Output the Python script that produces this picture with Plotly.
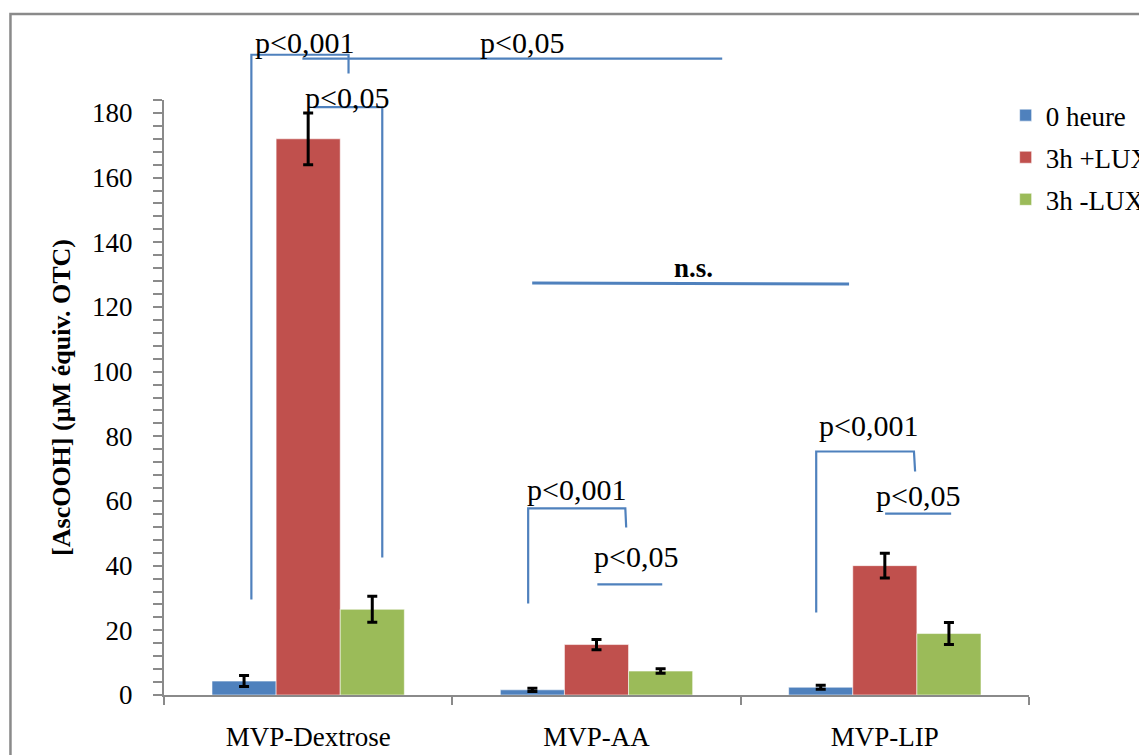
import plotly.graph_objects as go

# Samples and series
categories = ["MVP-Dextrose", "MVP-AA", "MVP-LIP"]
series_names = ["0 heure", "3h +LUX", "3h -LUX"]
series_colors = ["#4f81bd", "#c0504d", "#9bbb59"]
values_0h = [4.3, 1.6, 2.4]
values_lux = [172.0, 15.6, 40.0]
values_nolux = [26.5, 7.4, 19.0]
errors_0h = [1.7, 0.5, 0.6]
errors_lux = [8.0, 1.6, 3.8]
errors_nolux = [4.0, 0.7, 3.4]

Y_MAX = 184
SERIF = "Liberation Serif"
BRACKET_BLUE = "#4f81bd"

# Significance brackets: polylines in (category position, concentration) units
brackets = [
    ([-0.197, -0.197, 0.140, 0.140], [29.5, 198.0, 198.0, 192.2], 2.2),
    ([-0.020, 1.436], [196.8, 196.8], 2.2),
    ([0.018, 0.257, 0.257], [181.8, 181.8, 42.5], 2.2),
    ([0.763, 0.763, 1.100, 1.103], [28.3, 57.7, 57.7, 51.8], 2.2),
    ([1.003, 1.228], [34.2, 34.2], 2.2),
    ([1.762, 1.762, 2.101, 2.105], [25.5, 75.3, 75.3, 69.1], 2.2),
    ([2.001, 2.230], [56.1, 56.1], 2.2),
    ([0.777, 1.876], [127.4, 127.1], 3.0),
]

# Significance labels: (text, x, y, bold)
labels = [
    ("p<0,001", -0.013, 201.8, False),
    ("p<0,05", 0.136, 184.7, False),
    ("p<0,05", 0.743, 201.8, False),
    ("n.s.", 1.335, 132.2, True),
    ("p<0,001", 0.930, 63.5, False),
    ("p<0,05", 1.138, 42.8, False),
    ("p<0,001", 1.945, 83.3, False),
    ("p<0,05", 2.115, 61.7, False),
]

fig = go.Figure()
for name, color, vals, errs in zip(
    series_names,
    series_colors,
    [values_0h, values_lux, values_nolux],
    [errors_0h, errors_lux, errors_nolux],
):
    fig.add_trace(
        go.Bar(
            name=name,
            legendgroup=name,
            x=categories,
            y=vals,
            marker=dict(color=color, line=dict(color="rgba(255,255,255,0.55)", width=1)),
            error_y=dict(type="data", array=errs, visible=True,
                         color="black", thickness=3, width=5),
        )
    )

shapes = []
for xs, ys, w in brackets:
    path = "M" + " L".join(f"{x},{y / Y_MAX}" for x, y in zip(xs, ys))
    shapes.append(dict(type="path", path=path, xref="x", yref="paper",
                       line=dict(color=BRACKET_BLUE, width=w)))

# Outer chart frame
shapes.append(dict(type="rect", xref="paper", yref="paper",
                   x0=-0.1775, x1=1.16, y0=-0.12, y1=1.1445,
                   line=dict(color="#8a8a8a", width=2.5), layer="below"))

annotations = []
for text, x, y, bold in labels:
    annotations.append(dict(
        text=f"<b>{text}</b>" if bold else text,
        x=x, y=y / Y_MAX, xref="x", yref="paper",
        showarrow=False, xanchor="center", yanchor="middle",
        font=dict(family=SERIF, size=30 if not bold else 27, color="black"),
    ))

fig.update_layout(
    width=1139,
    height=755,
    paper_bgcolor="white",
    plot_bgcolor="white",
    margin=dict(l=164, r=110, t=100, b=60, autoexpand=False),
    barmode="group",
    bargap=0.333,
    bargroupgap=0,
    shapes=shapes,
    annotations=annotations,
    showlegend=True,
    legend=dict(
        x=0.973, y=1.015, xanchor="left", yanchor="top",
        font=dict(family=SERIF, size=27, color="black"),
        bgcolor="rgba(0,0,0,0)", tracegroupgap=4, itemclick=False,
    ),
    font=dict(family=SERIF, color="black"),
)

fig.update_xaxes(
    type="category",
    range=[-0.5, 2.5],
    automargin=False,
    showline=True, linecolor="#8a8a8a", linewidth=2,
    ticks="outside", tickson="boundaries", ticklen=8, tickwidth=2, tickcolor="#8a8a8a",
    tickfont=dict(family=SERIF, size=27, color="black"),
    ticklabelstandoff=17,
    showgrid=False, zeroline=False,
)

fig.update_yaxes(
    range=[0, Y_MAX],
    automargin=False,
    tickmode="linear", tick0=0, dtick=20,
    showline=True, linecolor="#8a8a8a", linewidth=2,
    ticks="outside", ticklen=9, tickwidth=2, tickcolor="#8a8a8a",
    minor=dict(dtick=4, ticks="outside", ticklen=9, tickwidth=2, tickcolor="#8a8a8a", showgrid=False),
    tickfont=dict(family=SERIF, size=27, color="black"),
    ticklabelstandoff=15,
    showgrid=False, zeroline=False,
    title=dict(text="<b>[AscOOH] (µM équiv. OTC)</b>",
               font=dict(family=SERIF, size=26, color="black"), standoff=14),
)

fig.write_html("out.html")
